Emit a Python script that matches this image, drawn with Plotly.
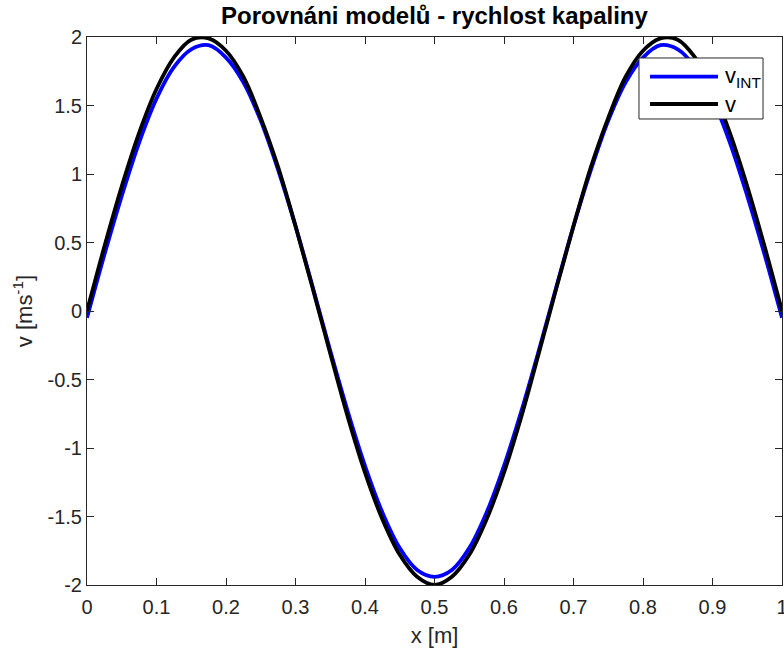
import plotly.graph_objects as go

# Sample positions along the pipe [m]
x_pos = [0.000, 0.025, 0.050, 0.075, 0.100, 0.125, 0.150, 0.175, 0.200, 0.225,
         0.250, 0.275, 0.300, 0.325, 0.350, 0.375, 0.400, 0.425, 0.450, 0.475,
         0.500, 0.525, 0.550, 0.575, 0.600, 0.625, 0.650, 0.675, 0.700, 0.725,
         0.750, 0.775, 0.800, 0.825, 0.850, 0.875, 0.900, 0.925, 0.950, 0.975,
         1.000]

# Liquid velocity from the integrated model [m/s]
v_int = [-0.05, 0.41, 0.84, 1.23, 1.55, 1.78, 1.91, 1.94, 1.85, 1.67,
         1.39, 1.03, 0.62, 0.17, -0.29, -0.73, -1.13, -1.47, -1.73, -1.89,
         -1.94, -1.89, -1.73, -1.47, -1.13, -0.73, -0.29, 0.17, 0.62, 1.03,
         1.39, 1.67, 1.85, 1.94, 1.91, 1.78, 1.55, 1.23, 0.84, 0.41,
         -0.05]

# Liquid velocity from the reference model [m/s]
v_ref = [0.00, 0.47, 0.91, 1.30, 1.62, 1.85, 1.98, 1.99, 1.90, 1.71,
         1.41, 1.05, 0.62, 0.16, -0.31, -0.77, -1.18, -1.52, -1.78, -1.94,
         -2.00, -1.94, -1.78, -1.52, -1.18, -0.77, -0.31, 0.16, 0.62, 1.05,
         1.41, 1.71, 1.90, 1.99, 1.98, 1.85, 1.62, 1.30, 0.91, 0.47,
         0.00]

series_names = ["v<sub>INT</sub>", "v"]
series_colors = ["#0000ff", "#000000"]

x_ticks = [0, 0.1, 0.2, 0.3, 0.4, 0.5, 0.6, 0.7, 0.8, 0.9, 1]
x_tick_labels = ["0", "0.1", "0.2", "0.3", "0.4", "0.5", "0.6", "0.7", "0.8", "0.9", "1"]
y_ticks = [-2, -1.5, -1, -0.5, 0, 0.5, 1, 1.5, 2]
y_tick_labels = ["-2", "-1.5", "-1", "-0.5", "0", "0.5", "1", "1.5", "2"]

FONT = "Liberation Sans, Arial, sans-serif"
AXIS_COLOR = "#262626"
LINE_W = 3.8

fig = go.Figure()
for yv, name, col in zip([v_int, v_ref], series_names, series_colors):
    fig.add_trace(go.Scatter(
        x=x_pos, y=yv, mode="lines", name=name, showlegend=False,
        line=dict(color=col, width=LINE_W, shape="spline"),
    ))

axis_common = dict(
    showline=True, linecolor=AXIS_COLOR, linewidth=1, mirror="ticks",
    ticks="inside", ticklen=7, tickwidth=1, tickcolor=AXIS_COLOR,
    showgrid=False, zeroline=False, ticklabeloverflow="allow", automargin=False,
    tickfont=dict(family=FONT, size=20, color=AXIS_COLOR),
)

# Legend box with long line samples, drawn in paper coordinates
leg_x0, leg_x1, leg_y0, leg_y1 = 0.7942, 0.9727, 0.8504, 0.9617
row_y = [0.9276, 0.8777]
sample_x0, sample_x1, text_x = 0.8101, 0.9079, 0.9151

shapes = [dict(type="rect", xref="paper", yref="paper",
               x0=leg_x0, x1=leg_x1, y0=leg_y0, y1=leg_y1,
               line=dict(color=AXIS_COLOR, width=1), fillcolor="white", layer="above")]
annotations = []
for ry, name, col in zip(row_y, series_names, series_colors):
    shapes.append(dict(type="line", xref="paper", yref="paper",
                       x0=sample_x0, x1=sample_x1, y0=ry, y1=ry,
                       line=dict(color=col, width=LINE_W), layer="above"))
    annotations.append(dict(xref="paper", yref="paper", x=text_x, y=ry,
                            xanchor="left", yanchor="middle", showarrow=False,
                            text=name, font=dict(family=FONT, size=22, color="#000000")))

fig.update_layout(
    width=784, height=655,
    margin=dict(l=87, r=2, t=37, b=70),
    paper_bgcolor="white", plot_bgcolor="white",
    title=dict(
        text="<b>Porovnáni modelů - rychlost kapaliny</b>",
        x=(87 + 782) / 2 / 784, xanchor="center",
        y=1 - 16 / 655, yanchor="middle",
        font=dict(family=FONT, size=24, color="#000000"),
    ),
    xaxis=dict(
        range=[0, 1], tickvals=x_ticks, ticktext=x_tick_labels,
        ticklabelstandoff=4,
        title=dict(text="x [m]", font=dict(family=FONT, size=22, color=AXIS_COLOR), standoff=10),
        **axis_common,
    ),
    yaxis=dict(
        range=[-2, 2], tickvals=y_ticks, ticktext=y_tick_labels,
        title=dict(text="v [ms<sup>-1</sup>]", font=dict(family=FONT, size=22, color=AXIS_COLOR), standoff=8),
        **axis_common,
    ),
    shapes=shapes,
    annotations=annotations,
    showlegend=False,
)

fig.write_html("out.html")
